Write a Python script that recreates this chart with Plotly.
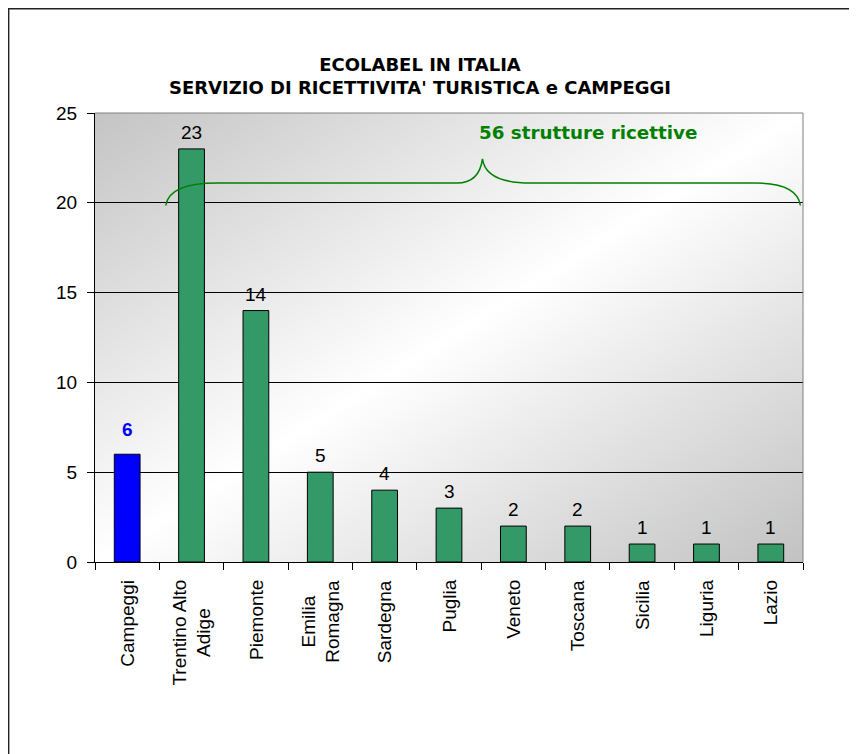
import base64
import plotly.graph_objects as go

categories = ["Campeggi", "Trentino Alto<br>Adige", "Piemonte", "Emilia<br>Romagna", "Sardegna",
              "Puglia", "Veneto", "Toscana", "Sicilia", "Liguria", "Lazio"]
values = [6, 23, 14, 5, 4, 3, 2, 2, 1, 1, 1]
bar_colors = ["#0000FF"] + ["#339966"] * 10
label_colors = ["#0000FF"] + ["#000000"] * 10
label_bold = [True] + [False] * 10
y_ticks = [0, 5, 10, 15, 20, 25]
title_lines = ["ECOLABEL IN ITALIA", "SERVIZIO DI RICETTIVITA' TURISTICA e CAMPEGGI"]
brace_text = "56 strutture ricettive"

FONT = "Liberation Sans, Arial, sans-serif"
BOLDFONT = "DejaVu Sans, Verdana, sans-serif"

W, H = 849, 746          # page body has an 8px margin
ML, MR, MT, MB = 87, 54, 105, 192
PW, PH = W - ML - MR, H - MT - MB

svg = ('<svg xmlns="http://www.w3.org/2000/svg" width="100" height="100" preserveAspectRatio="none">'
       '<defs><linearGradient id="g" x1="0" y1="0" x2="1" y2="1">'
       '<stop offset="0" stop-color="#c4c4c4"/><stop offset="0.5" stop-color="#ffffff"/>'
       '<stop offset="1" stop-color="#c2c2c2"/></linearGradient></defs>'
       '<rect width="100" height="100" fill="url(#g)"/></svg>')
svg_uri = "data:image/svg+xml;base64," + base64.b64encode(svg.encode()).decode()

fig = go.Figure()
fig.add_trace(go.Bar(
    x=categories, y=values,
    marker=dict(color=bar_colors, line=dict(color="black", width=1)),
    width=0.4, hoverinfo="skip",
))

for i, (c, v) in enumerate(zip(categories, values)):
    txt = f"<b>{v}</b>" if label_bold[i] else str(v)
    fig.add_annotation(x=c, y=v, text=txt, showarrow=False, xref="x", yref="y",
                       yanchor="bottom", yshift=12 if label_bold[i] else 4,
                       font=dict(family=FONT, size=19, color=label_colors[i]))

# category labels (rotated, centred lines)
for c in categories:
    fig.add_annotation(x=c, y=0, xref="x", yref="y", text=c, showarrow=False,
                       textangle=-90, align="center", xanchor="center", yanchor="top",
                       yshift=-16, font=dict(family=FONT, size=19, color="black"))

# brace over the regional bars (index 1 .. 10)
n = len(categories)
x0, x1 = 0.6, n - 0.54
xm = (1 + n - 1) / 2 + 0.02
yb, yl, yt = 19.85, 21.1, 22.45
path = (f"M {x0},{yb} Q {x0+0.05},{yl} {x0+0.8},{yl} L {xm-0.4},{yl} "
        f"Q {xm-0.05},{yl} {xm},{yt} Q {xm+0.05},{yl} {xm+0.75},{yl} "
        f"L {x1-0.7},{yl} Q {x1-0.05},{yl} {x1},{yb}")
fig.add_shape(type="path", path=path, xref="x", yref="y",
              line=dict(color="#008000", width=1.5))
fig.add_annotation(x=xm + 1.64, y=23.9, xref="x", yref="y", text=f"<b>{brace_text}</b>",
                   showarrow=False, font=dict(family=BOLDFONT, size=18.3, color="#008000"))

# plot-area top/right border
fig.add_shape(type="line", xref="paper", yref="paper", x0=0, x1=1, y0=1, y1=1,
              line=dict(color="#808080", width=1))
fig.add_shape(type="line", xref="paper", yref="paper", x0=1, x1=1, y0=0, y1=1,
              line=dict(color="#808080", width=1))
# outer chart border (left and top edges visible)
fig.add_shape(type="rect", xref="paper", yref="paper",
              x0=(0.7 - ML) / PW, x1=3, y0=-3, y1=(PH + MT - 0.7) / PH,
              line=dict(color="#222222", width=1.4))

fig.update_layout(
    width=W, height=H,
    margin=dict(l=ML, r=MR, t=MT, b=MB),
    paper_bgcolor="white", plot_bgcolor="rgba(0,0,0,0)",
    showlegend=False,
    font=dict(family=FONT, size=19, color="black"),
    title=dict(text="<b>" + "<br>".join(title_lines) + "</b>", x=412 / W, xref="container",
               xanchor="center", y=1 - 63 / H, yanchor="middle",
               font=dict(family=BOLDFONT, size=18, color="black")),
    images=[dict(source=svg_uri, xref="paper", yref="paper", x=0, y=1, sizex=1, sizey=1,
                 sizing="stretch", xanchor="left", yanchor="top", layer="below")],
)
fig.update_xaxes(
    tickson="boundaries", ticks="outside", ticklen=7, tickcolor="black",
    showline=True, linecolor="black", linewidth=1, showgrid=False,
    showticklabels=False, range=[-0.5, n - 0.5],
)
fig.update_yaxes(
    range=[0, 25], tickvals=y_ticks, ticks="outside", ticklen=7, tickcolor="black",
    showline=True, linecolor="black", linewidth=1,
    showgrid=True, gridcolor="black", gridwidth=1, zeroline=False,
    tickfont=dict(family=FONT, size=19, color="black"), ticklabelstandoff=6,
)

fig.write_html("out.html")
